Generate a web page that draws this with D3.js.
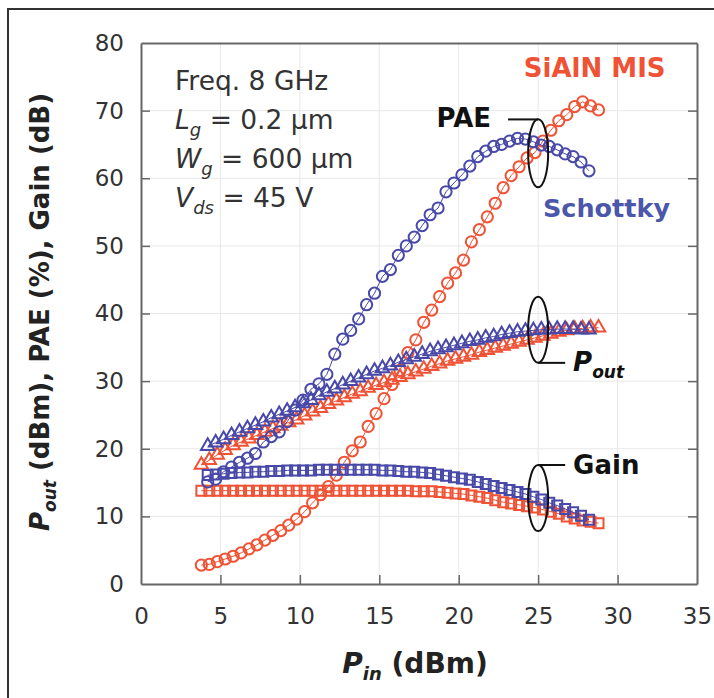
<!DOCTYPE html>
<html>
<head>
<meta charset="utf-8">
<script src="https://cdn.jsdelivr.net/npm/d3@7"></script>
<style>
  body { margin: 0; background: #fff; }
  svg { display: block; font-family: "DejaVu Sans", Verdana, sans-serif; }
</style>
</head>
<body>
<div id="root"></div>
<script>
// Pin (dBm) grid of each device
const pinSchottky = [4.2, 4.7, 5.2, 5.7, 6.2, 6.7, 7.2, 7.7, 8.2, 8.7, 9.2, 9.7, 10.2, 10.7, 11.2, 11.7, 12.2, 12.7, 13.2, 13.7, 14.2, 14.7, 15.2, 15.7, 16.2, 16.7, 17.2, 17.7, 18.2, 18.7, 19.2, 19.7, 20.2, 20.7, 21.2, 21.7, 22.2, 22.7, 23.2, 23.7, 24.2, 24.7, 25.2, 25.7, 26.2, 26.7, 27.2, 27.7, 28.2];
const pinMis = [3.8, 4.3, 4.8, 5.3, 5.8, 6.3, 6.8, 7.3, 7.8, 8.3, 8.8, 9.3, 9.8, 10.3, 10.8, 11.3, 11.8, 12.3, 12.8, 13.3, 13.8, 14.3, 14.8, 15.3, 15.8, 16.3, 16.8, 17.3, 17.8, 18.3, 18.8, 19.3, 19.8, 20.3, 20.8, 21.3, 21.8, 22.3, 22.8, 23.3, 23.8, 24.3, 24.8, 25.3, 25.8, 26.3, 26.8, 27.3, 27.8, 28.3, 28.8];

// Schottky (blue)
const paeSchottky = [15.1, 15.5, 16.6, 17.3, 18.0, 18.6, 19.3, 21.0, 21.8, 22.5, 24.0, 25.7, 27.2, 28.8, 29.6, 31.0, 34.0, 36.2, 37.5, 39.2, 41.3, 43.0, 45.5, 46.5, 48.6, 50.0, 51.3, 53.0, 54.6, 55.6, 58.0, 59.3, 60.5, 61.8, 63.2, 64.0, 64.7, 65.0, 65.5, 65.9, 65.8, 65.4, 64.9, 64.7, 64.2, 63.6, 63.2, 62.4, 61.1];
const poutSchottky = [20.4, 20.9, 21.4, 22.0, 22.5, 23.0, 23.5, 24.0, 24.6, 25.1, 25.6, 26.1, 26.7, 27.2, 27.9, 28.4, 28.9, 29.5, 30.0, 30.5, 31.0, 31.5, 31.9, 32.3, 32.8, 33.2, 33.6, 34.0, 34.4, 34.7, 35.0, 35.3, 35.6, 35.9, 36.1, 36.4, 36.6, 36.9, 37.1, 37.3, 37.4, 37.5, 37.6, 37.6, 37.7, 37.7, 37.7, 37.6, 37.6];
const gainSchottky = [16.1, 16.2, 16.3, 16.4, 16.5, 16.5, 16.6, 16.6, 16.7, 16.7, 16.8, 16.8, 16.8, 16.8, 16.9, 16.9, 16.9, 16.9, 16.9, 16.9, 16.9, 16.9, 16.8, 16.8, 16.7, 16.6, 16.6, 16.5, 16.4, 16.2, 16.0, 15.8, 15.6, 15.4, 15.1, 14.8, 14.5, 14.2, 13.9, 13.6, 13.3, 12.9, 12.5, 12.0, 11.6, 11.1, 10.6, 10.1, 9.5];

// SiAlN MIS (red)
const paeMis = [2.8, 2.9, 3.3, 3.7, 4.1, 4.6, 5.2, 5.8, 6.5, 7.2, 7.9, 8.7, 9.6, 10.7, 12.0, 13.2, 14.4, 16.1, 18.0, 19.7, 21.0, 23.3, 25.2, 27.4, 29.5, 31.6, 34.2, 36.1, 38.7, 40.5, 42.5, 44.5, 46.0, 47.9, 50.6, 52.4, 54.3, 56.3, 58.6, 60.4, 61.7, 63.0, 63.8, 65.5, 67.1, 68.5, 69.4, 70.6, 71.3, 70.7, 70.1];
const poutMis = [17.6, 18.3, 19.1, 19.8, 20.5, 21.0, 21.5, 22.0, 22.5, 23.0, 23.4, 23.9, 24.3, 24.9, 25.5, 26.0, 26.6, 27.1, 27.6, 28.1, 28.5, 29.0, 29.4, 29.8, 30.2, 30.6, 31.0, 31.4, 31.8, 32.2, 32.6, 33.0, 33.3, 33.6, 33.9, 34.3, 34.6, 34.9, 35.2, 35.5, 35.8, 36.1, 36.4, 36.7, 37.0, 37.3, 37.5, 37.7, 37.8, 37.9, 37.9];
const gainMis = [13.8, 13.8, 13.8, 13.8, 13.8, 13.8, 13.8, 13.8, 13.8, 13.8, 13.8, 13.8, 13.8, 13.8, 13.8, 13.8, 13.8, 13.8, 13.8, 13.8, 13.8, 13.8, 13.8, 13.8, 13.8, 13.8, 13.8, 13.7, 13.7, 13.7, 13.6, 13.5, 13.4, 13.3, 13.1, 12.9, 12.7, 12.4, 12.1, 11.9, 11.7, 11.5, 11.3, 11.0, 10.7, 10.4, 10.0, 9.7, 9.4, 9.2, 9.0];

const xTicks = [0, 5, 10, 15, 20, 25, 30, 35];
const yTicks = [0, 10, 20, 30, 40, 50, 60, 70, 80];

const red = "#ef5234",
  blue = "#4848a8";

const width = 714,
  height = 698;
const margin = { left: 141, right: 17, top: 43, bottom: 114 };

let svg = d3
  .select("#root")
  .append("svg")
  .attr("width", width)
  .attr("height", height);

// outer frame
svg
  .append("rect")
  .attr("x", 8)
  .attr("y", 9)
  .attr("width", 740)
  .attr("height", 720)
  .attr("fill", "none")
  .attr("stroke", "#333")
  .attr("stroke-width", 2);

let x = d3
  .scaleLinear()
  .domain([0, 35])
  .range([margin.left, width - margin.right]);
let y = d3
  .scaleLinear()
  .domain([0, 80])
  .range([height - margin.bottom, margin.top]);

// grid
let grid = svg.append("g");
grid
  .selectAll("line.gx")
  .data(xTicks.slice(1, -1))
  .enter()
  .append("line")
  .attr("x1", d => x(d))
  .attr("x2", d => x(d))
  .attr("y1", y(0))
  .attr("y2", y(80))
  .attr("stroke", "#e8e8e8");
grid
  .selectAll("line.gy")
  .data(yTicks.slice(1, -1))
  .enter()
  .append("line")
  .attr("x1", x(0))
  .attr("x2", x(35))
  .attr("y1", d => y(d))
  .attr("y2", d => y(d))
  .attr("stroke", "#e8e8e8");

// axes, ticks inward
let axisColor = "#666";
let leftAxis = svg
  .append("g")
  .attr("transform", `translate(${x(0)},0)`)
  .call(d3.axisLeft(y).tickValues(yTicks).tickSizeInner(-9).tickSizeOuter(0).tickPadding(17));
let rightAxis = svg
  .append("g")
  .attr("transform", `translate(${x(35)},0)`)
  .call(d3.axisRight(y).tickValues(yTicks.slice(1, -1)).tickSizeInner(-9).tickSizeOuter(0).tickFormat(""));
let bottomAxis = svg
  .append("g")
  .attr("transform", `translate(0,${y(0)})`)
  .call(d3.axisBottom(x).tickValues(xTicks).tickSizeInner(-9).tickSizeOuter(0).tickPadding(24));
let topAxis = svg
  .append("g")
  .attr("transform", `translate(0,${y(80)})`)
  .call(d3.axisTop(x).tickValues([]).tickSizeOuter(0));

[leftAxis, rightAxis, bottomAxis, topAxis].forEach(g => {
  g.select(".domain").attr("stroke", axisColor).attr("stroke-width", 2);
  g.selectAll(".tick line").attr("stroke", axisColor).attr("stroke-width", 1.5);
  g.selectAll(".tick text")
    .attr("fill", "#333")
    .style("font-size", "23px")
    .style("font-family", "DejaVu Sans, sans-serif");
});
bottomAxis.selectAll(".tick").filter(d => d === 0 || d === 35).select("line").remove();
leftAxis.selectAll(".tick").filter(d => d === 0 || d === 80).select("line").remove();

// series
let series = [
  { pin: pinMis, val: paeMis, color: red, shape: "circle" },
  { pin: pinMis, val: poutMis, color: red, shape: "triangle" },
  { pin: pinMis, val: gainMis, color: red, shape: "square" },
  { pin: pinSchottky, val: paeSchottky, color: blue, shape: "circle" },
  { pin: pinSchottky, val: poutSchottky, color: blue, shape: "triangle" },
  { pin: pinSchottky, val: gainSchottky, color: blue, shape: "square" }
];

let line = d3
  .line()
  .x(d => x(d[0]))
  .y(d => y(d[1]));

let symbols = {
  circle: d3.symbol().type(d3.symbolCircle).size(Math.PI * 5.6 * 5.6),
  triangle: d3.symbol().type(d3.symbolTriangle).size(78),
  square: d3.symbol().type(d3.symbolSquare).size(100)
};

series.forEach(s => {
  let pts = s.pin.map((p, i) => [p, s.val[i]]);
  let g = svg.append("g");
  g.append("path")
    .attr("d", line(pts))
    .attr("fill", "none")
    .attr("stroke", s.color)
    .attr("stroke-width", 1);
  g.selectAll("path.m")
    .data(pts)
    .enter()
    .append("path")
    .attr("class", "m")
    .attr("transform", d => `translate(${x(d[0])},${y(d[1])})`)
    .attr("d", symbols[s.shape])
    .attr("fill", "none")
    .attr("stroke", s.color)
    .attr("stroke-width", 2);
});

// annotations: ellipses + leaders
let notes = svg.append("g").attr("stroke", "#111").attr("stroke-width", 2).attr("fill", "none");
notes.append("ellipse").attr("cx", x(25.0)).attr("cy", y(63.7)).attr("rx", 10).attr("ry", 34);
notes.append("path").attr("d", `M${x(23.1)},${y(68.7)}H${x(25.0)}`);
notes.append("ellipse").attr("cx", x(25.0)).attr("cy", y(37.6)).attr("rx", 10).attr("ry", 33);
notes.append("path").attr("d", `M${x(25.0)},${y(32.7)}H${x(26.7)}`);
notes.append("ellipse").attr("cx", x(25.0)).attr("cy", y(12.7)).attr("rx", 10).attr("ry", 33);
notes.append("path").attr("d", `M${x(25.0)},${y(17.6)}H${x(26.7)}`);

let label = (tx, ty, str, opts) => {
  let t = svg
    .append("text")
    .attr("x", tx)
    .attr("y", ty)
    .attr("fill", opts.color || "#111")
    .style("font-size", (opts.size || 22) + "px")
    .style("font-weight", opts.bold ? "bold" : "normal");
  return t.text(str);
};

label(x(18.6), y(67.6), "PAE", { bold: true, size: 26 });
label(x(27.2), y(16.3), "Gain", { bold: true, size: 26 });
let pout = label(x(27.2), y(31.5), "", { bold: true, size: 26 });
pout.append("tspan").style("font-style", "italic").text("P");
pout.append("tspan").style("font-style", "italic").style("font-size", "17px").attr("dy", 7).text("out");

label(x(24.1), y(75.0), "SiAlN MIS", { bold: true, size: 26, color: red });
label(x(25.3), y(54.3), "Schottky", { bold: true, size: 25.5, color: "#4a57aa" });

// condition block
let info = [
  { main: "Freq. 8 GHz" },
  { sym: "L", sub: "g", rest: " = 0.2 µm" },
  { sym: "W", sub: "g", rest: " = 600 µm" },
  { sym: "V", sub: "ds", rest: " = 45 V" }
];
info.forEach((d, i) => {
  let t = label(175, 90 + i * 39, "", { size: 26.5, color: "#333" });
  if (d.main) {
    t.text(d.main);
  } else {
    t.append("tspan").style("font-style", "italic").text(d.sym);
    t.append("tspan").style("font-style", "italic").style("font-size", "18px").attr("dy", 7).text(d.sub);
    t.append("tspan").attr("dy", -7).text(d.rest);
  }
});

// axis titles
let xt = svg
  .append("text")
  .attr("x", 415)
  .attr("y", 673)
  .attr("text-anchor", "middle")
  .attr("fill", "#222")
  .style("font-size", "28px")
  .style("font-weight", "bold");
xt.append("tspan").style("font-style", "italic").text("P");
xt.append("tspan").style("font-style", "italic").style("font-size", "18px").attr("dy", 7).text("in");
xt.append("tspan").attr("dy", -7).text(" (dBm)");

let yt = svg
  .append("text")
  .attr("transform", "translate(49,312) rotate(-90)")
  .attr("text-anchor", "middle")
  .attr("fill", "#222")
  .style("font-size", "26px")
  .style("font-weight", "bold");
yt.append("tspan").style("font-style", "italic").text("P");
yt.append("tspan").style("font-style", "italic").style("font-size", "17px").attr("dy", 7).text("out");
yt.append("tspan").attr("dy", -7).text(" (dBm), PAE (%), Gain (dB)");
</script>
</body>
</html>
